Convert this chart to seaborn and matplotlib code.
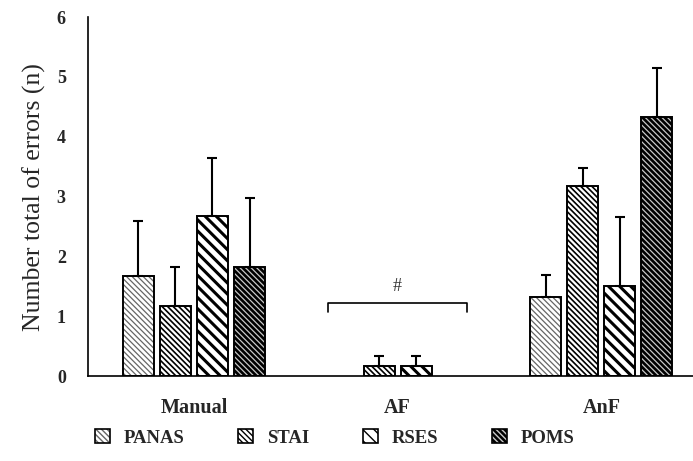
import matplotlib
matplotlib.use("Agg")
import matplotlib.pyplot as plt
from matplotlib.patches import Rectangle, Patch
from matplotlib.legend_handler import HandlerTuple
import numpy as np
import pandas as pd
import seaborn as sns

# medias e erro (so a parte de cima)
groups = ["Manual", "AF", "AnF"]
scales = ["PANAS", "STAI", "RSES", "POMS"]
panas = [1.67, 0.0, 1.33]
stai = [1.17, 0.17, 3.17]
rses = [2.67, 0.17, 1.50]
poms = [1.83, 0.0, 4.33]
panas_err = [0.93, 0.0, 0.36]
stai_err = [0.66, 0.16, 0.31]
rses_err = [0.97, 0.16, 1.16]
poms_err = [1.15, 0.0, 0.82]

means = [panas, stai, rses, poms]
errs = [panas_err, stai_err, rses_err, poms_err]

df = pd.DataFrame({
    "group": np.tile(groups, len(scales)),
    "scale": np.repeat(scales, len(groups)),
    "value": np.concatenate(means),
})

# face, hachura, cor da hachura, espessura da hachura
styles = {
    "PANAS": ("white", "\\" * 6, "#666666", 0.9),
    "STAI": ("white", "\\" * 6, "black", 1.2),
    "RSES": ("white", "\\" * 3, "black", 2.2),
    "POMS": ("black", "\\" * 6, "#c8c8c8", 0.9),
}

sns.set_style("white")
plt.rcParams["font.family"] = ["Liberation Serif", "DejaVu Serif"]

fig = plt.figure(figsize=(6.93, 4.61), dpi=100)
ax = fig.add_axes([0.127, 0.184, 0.873, 0.779])

sns.barplot(data=df, x="group", y="value", hue="scale", order=groups,
            hue_order=scales, width=0.728, gap=0.165, errorbar=None,
            linewidth=0, legend=False, ax=ax)


def style_patch(p, scale):
    face, hatch, hcol, hlw = styles[scale]
    p.set_facecolor(face)
    p.set_hatch(hatch)
    p.set_edgecolor(hcol)
    p.set_linewidth(0)
    if hasattr(p, "set_hatch_linewidth"):
        p.set_hatch_linewidth(hlw)


handles = []
for cont, scale, err in zip(ax.containers, scales, errs):
    xs, tops, ups = [], [], []
    for p, e in zip(cont.patches, err):
        style_patch(p, scale)
        h = p.get_height()
        if h <= 0:
            continue
        ax.add_patch(Rectangle((p.get_x(), 0), p.get_width(), h, fill=False,
                               edgecolor="black", linewidth=1.4, zorder=3))
        xs.append(p.get_x() + p.get_width() / 2)
        tops.append(h)
        ups.append(e)
    ax.errorbar(xs, tops, yerr=[np.zeros(len(ups)), ups], fmt="none",
                ecolor="black", elinewidth=1.5, capsize=3.8, capthick=1.5,
                zorder=4)
    hp = Patch()
    style_patch(hp, scale)
    outline = Patch(fill=False, edgecolor="black", linewidth=1.2)
    handles.append((hp, outline))

# barra de significancia em AF
ax.plot([0.66, 0.66, 1.34, 1.34], [1.08, 1.22, 1.22, 1.08],
        color="black", linewidth=1.2)
ax.text(1.0, 1.36, "#", ha="center", va="bottom", fontsize=13, color="#333333")

ax.set_xlim(-0.52, 2.45)
ax.set_ylim(0, 6)
ax.set_yticks(range(0, 7))
ax.set_xlabel("")
ax.set_ylabel("Number total of errors (n)", fontsize=18.5, labelpad=8)
ax.tick_params(axis="y", length=0, pad=16, labelsize=13)
ax.tick_params(axis="x", length=0, pad=16, labelsize=14.5)
for lab in ax.get_yticklabels() + ax.get_xticklabels():
    lab.set_fontweight("bold")

sns.despine(ax=ax, top=True, right=True)
for side in ["left", "bottom"]:
    ax.spines[side].set_color("black")
    ax.spines[side].set_linewidth(1.2)

fig.legend(handles, scales, loc="center", bbox_to_anchor=(0.483, 0.05),
           ncol=4, frameon=False, prop={"size": 13.5, "weight": "bold"},
           handlelength=0.8, handleheight=0.8, handletextpad=0.75,
           columnspacing=2.85,
           handler_map={tuple: HandlerTuple(ndivide=1, pad=0)})

fig.savefig("out.png", dpi=100)
